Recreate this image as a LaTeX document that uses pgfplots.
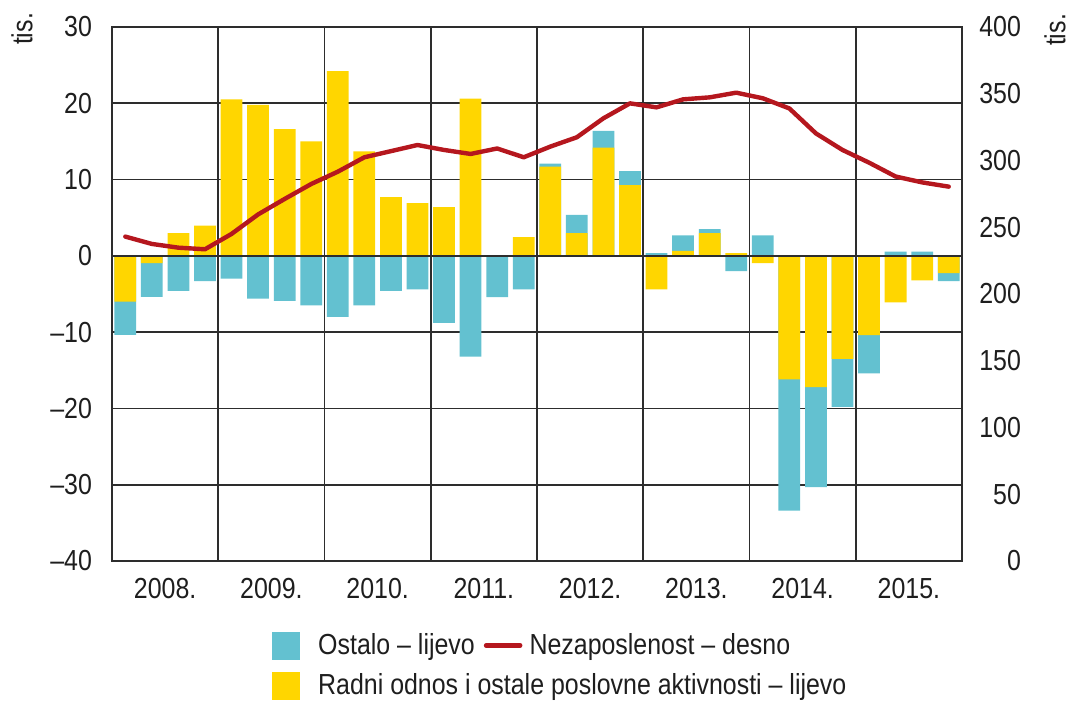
\documentclass[border=0pt]{standalone}
\usepackage{fontspec}
\setmainfont{Liberation Sans}[FakeStretch=0.86]
\usepackage{pgfplots}
\usepackage{pgfplotstable}
\pgfplotsset{compat=1.18}
\definecolor{cyanc}{RGB}{99,193,208}
\definecolor{yellc}{RGB}{255,214,0}
\definecolor{redc}{RGB}{181,23,30}
\definecolor{gridc}{RGB}{45,45,45}
\definecolor{txtc}{RGB}{30,30,30}

% x: quarter index (2008Q1 = 0), Y: Radni odnos (yellow), C: outer end of Ostalo segment
\pgfplotstableread{
x Y C
0 -6.0 -10.35
1 -0.95 -5.37
2 2.97 -4.6
3 3.97 -3.3
4 20.5 -3.0
5 19.8 -5.6
6 16.6 -5.9
7 15.0 -6.5
8 24.2 -8.0
9 13.7 -6.5
10 7.7 -4.6
11 6.9 -4.4
12 6.4 -8.8
13 20.6 -13.2
14 0 -5.4
15 2.45 -4.4
16 11.7 12.1
17 2.97 5.37
18 14.2 16.4
19 9.26 11.1
20 -4.4 0.35
21 0.65 2.7
22 2.97 3.5
23 0.35 -2.0
24 -0.96 2.7
25 -16.2 -33.4
26 -17.2 -30.3
27 -13.5 -19.8
28 -10.4 -15.4
29 -6.1 0.57
30 -3.2 0.57
31 -2.27 -3.3
}\bars

\pgfplotstableread{
x L
0 243
1 237.5
2 234.7
3 233.5
4 245
5 259.6
6 271.2
7 282.4
8 291.6
9 302.4
10 307
11 311.6
12 307.9
13 304.9
14 309
15 302.4
16 310.4
17 317.4
18 331.6
19 342.8
20 339.8
21 345.8
22 347.3
23 350.8
24 346.6
25 339
26 320.3
27 307.9
28 298.4
29 288
30 283.6
31 280.4
}\unemp

\begin{document}
\begin{tikzpicture}[font=\fontsize{14.5}{17}\selectfont, text=txtc]
\begin{axis}[
  name=main,
  scale only axis, width=425pt, height=267pt,
  xmin=-0.5, xmax=31.5, ymin=-40, ymax=30,
  axis line style={gridc, line width=0.8pt},
  ytick={-40,-30,...,30},
  yticklabels={\textendash40,\textendash30,\textendash20,\textendash10,0,10,20,30},
  xtick={1.5,5.5,...,29.5},
  xticklabels={2008.,2009.,2010.,2011.,2012.,2013.,2014.,2015.},
  minor xtick={3.5,7.5,...,27.5},
  xminorgrids=true, ymajorgrids=true, xmajorgrids=false,
  grid style={gridc, line width=0.8pt},
  minor grid style={gridc, line width=0.8pt},
  major tick length=0pt, minor tick length=0pt,
  yticklabel style={xshift=-6.5pt},
  xticklabel style={yshift=-5pt},
  legend columns=2,
  legend cell align=left,
  legend style={draw=none, fill=none, at={(rel axis cs:0,0)}, anchor=north west,
    xshift=77pt, yshift=-32.5pt, row sep=5pt,
    nodes={inner sep=1.5pt},
    /tikz/every even column/.append style={column sep=3pt}},
]
\addplot[ybar, bar width=0.82, bar shift=0pt, fill=cyanc, draw=none, forget plot] table[x=x, y=C] {\bars};
\addplot[ybar, bar width=0.82, bar shift=0pt, fill=yellc, draw=none, forget plot] table[x=x, y=Y] {\bars};
\addplot[gridc, line width=0.8pt, forget plot] coordinates {(-0.5,0) (31.5,0)};

\addlegendimage{legend image code/.code={\fill[cyanc] (0pt,-6.75pt) rectangle (13.5pt,6.75pt); \path (21pt,0pt);}}
\addlegendentry{Ostalo – lijevo}
\addlegendimage{legend image code/.code={\draw[redc, line width=2.3pt, line cap=round] (0pt,0pt) -- (17pt,0pt); \path (20pt,0pt);}}
\addlegendentry{Nezaposlenost – desno}
\addlegendimage{legend image code/.code={\fill[yellc] (0pt,-6.75pt) rectangle (13.5pt,6.75pt); \path (21pt,0pt);}}
\addlegendentry{\makebox[0pt][l]{Radni odnos i ostale poslovne aktivnosti – lijevo}}
\end{axis}

\begin{axis}[
  scale only axis, width=425pt, height=267pt,
  xmin=-0.5, xmax=31.5, ymin=0, ymax=400,
  axis y line*=right, axis x line=none,
  axis line style={draw=none},
  ytick={0,50,...,400},
  major tick length=0pt,
  /pgf/number format/assume math mode=true,
  yticklabel style={anchor=east, xshift=33pt},
]
\addplot[redc, line width=2.2pt, line join=round, line cap=round] table[x=x, y=L] {\unemp};
\end{axis}

\node[rotate=90] at ([xshift=-45pt, yshift=-1pt]main.north west) {tis.};
\node[rotate=90] at ([xshift=46.5pt, yshift=-1.5pt]main.north east) {tis.};

\pgfresetboundingbox
\path[use as bounding box] ([xshift=-56pt,yshift=-70pt]main.south west) rectangle ([xshift=53.5pt,yshift=13.5pt]main.north east);
\end{tikzpicture}
\end{document}
